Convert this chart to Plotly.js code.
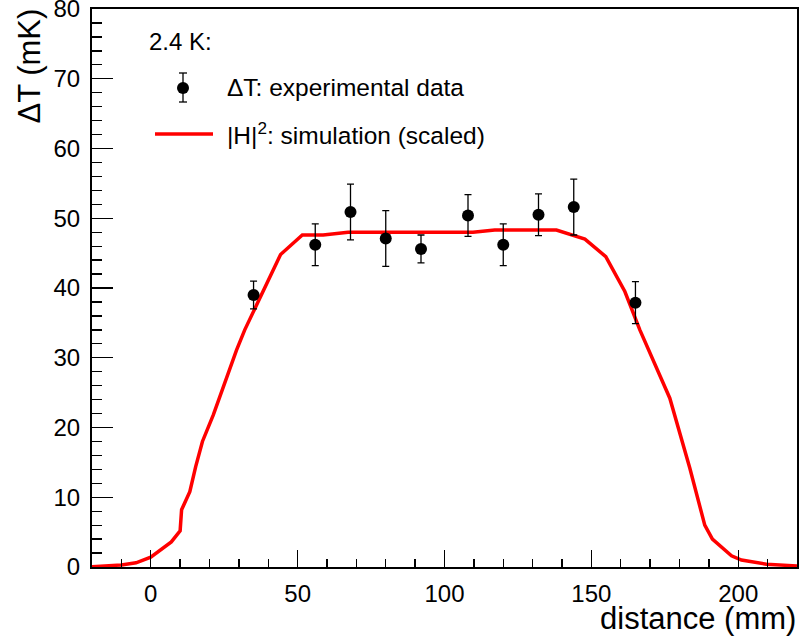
<!DOCTYPE html>
<html>
<head>
<meta charset="utf-8">
<script src="https://cdn.plot.ly/plotly-3.0.1.min.js"></script>
<style>html,body{margin:0;padding:0;background:#fff;}#chart{width:799px;height:640px;}</style>
</head>
<body>
<div id="chart"></div>
<script>
// Experimental data (distance in mm, ΔT in mK)
const expX = [35, 56, 68, 80, 92, 108, 120, 132, 144, 165];
const expY = [39.0, 46.2, 50.9, 47.1, 45.6, 50.4, 46.2, 50.5, 51.6, 37.9];
const expErr = [2.0, 3.0, 4.0, 4.0, 2.0, 3.0, 3.0, 3.0, 4.0, 3.0];

// Simulation |H|^2 (scaled)
const simX = [-20, -10, -5, 0, 7, 10, 10.5, 13.3, 15.3, 17.6, 21.3, 25.3, 29.2, 32, 44.2, 51.6, 58.7, 67.2, 109.7, 117.1, 138.1, 147.8, 154.9, 161.4, 166.5, 176.7, 183.5, 188.6, 191.2, 197.7, 201.1, 209.6, 220];
const simY = [0.05, 0.3, 0.6, 1.4, 3.6, 5.2, 8.2, 10.8, 14.4, 18.0, 21.8, 26.6, 31.1, 34.0, 44.8, 47.6, 47.6, 48.0, 48.0, 48.3, 48.3, 47.0, 44.5, 39.5, 34.0, 24.2, 14.2, 6.0, 4.0, 1.6, 1.0, 0.4, 0.15];

const legendTitle = "2.4 K:";
const legendExp = "ΔT: experimental data";
const legendSim = "|H|<sup>2</sup>: simulation (scaled)";
const xTitle = "distance (mm)";
const yTitle = "ΔT (mK)";

const FONT = "Liberation Sans, Arial, sans-serif";
const W = 799, H = 640, ML = 92, MR = 2, MT = 9, MB = 73;
const PW = W - ML - MR, PH = H - MT - MB;
const px = v => (v - ML) / PW;
const py = v => (H - MB - v) / PH;

const traces = [
  {
    x: simX, y: simY, type: 'scatter', mode: 'lines',
    line: {color: '#ff0000', width: 3.5},
    showlegend: false, hoverinfo: 'skip'
  },
  {
    x: expX, y: expY, type: 'scatter', mode: 'markers',
    marker: {color: '#000', size: 12},
    error_y: {type: 'data', array: expErr, visible: true, color: '#000', thickness: 1.3, width: 3.5},
    showlegend: false
  }
];

const layout = {
  width: W, height: H,
  margin: {l: ML, r: MR, t: MT, b: MB, pad: 0},
  paper_bgcolor: '#fff', plot_bgcolor: '#fff',
  font: {family: FONT, color: '#000'},
  showlegend: false,
  xaxis: {
    range: [-20, 220], tick0: 0, dtick: 50,
    ticks: 'inside', ticklen: 17, tickwidth: 1.3, tickcolor: '#000',
    minor: {dtick: 10, ticks: 'inside', ticklen: 8, tickwidth: 1.3, tickcolor: '#000'},
    showline: true, linecolor: '#000', linewidth: 2, mirror: true,
    showgrid: false, zeroline: false, automargin: false,
    tickfont: {family: FONT, size: 24, color: '#000'},
    ticklabelstandoff: 4, ticklabeloverflow: 'allow'
  },
  yaxis: {
    range: [0, 80], tick0: 0, dtick: 10,
    ticks: 'inside', ticklen: 21, tickwidth: 1.3, tickcolor: '#000',
    minor: {dtick: 2, ticks: 'inside', ticklen: 10, tickwidth: 1.3, tickcolor: '#000'},
    showline: true, linecolor: '#000', linewidth: 2, mirror: true,
    showgrid: false, zeroline: false, automargin: false,
    tickfont: {family: FONT, size: 24, color: '#000'},
    ticklabelstandoff: 5, ticklabeloverflow: 'allow'
  },
  annotations: [
    {xref: 'paper', yref: 'paper', x: 1.002, y: -0.057, xanchor: 'right', yanchor: 'top',
     text: xTitle, showarrow: false, font: {family: FONT, size: 31, color: '#000'}},
    {xref: 'paper', yref: 'paper', x: px(29), y: py(7), xanchor: 'center', yanchor: 'top',
     textangle: -90, text: yTitle, showarrow: false, font: {family: FONT, size: 31, color: '#000'}},
    {xref: 'paper', yref: 'paper', x: px(147), y: py(42), xanchor: 'left', yanchor: 'middle',
     text: legendTitle, showarrow: false, font: {family: FONT, size: 24, color: '#000'}},
    {xref: 'paper', yref: 'paper', x: px(225), y: py(88), xanchor: 'left', yanchor: 'middle',
     text: legendExp, showarrow: false, font: {family: FONT, size: 24.5, color: '#000'}},
    {xref: 'paper', yref: 'paper', x: px(225), y: py(133), xanchor: 'left', yanchor: 'middle',
     text: legendSim, showarrow: false, font: {family: FONT, size: 24.5, color: '#000'}}
  ],
  shapes: [
    // legend error bar symbol
    {type: 'line', xref: 'paper', yref: 'paper', x0: px(183), x1: px(183), y0: py(73), y1: py(102), line: {color: '#000', width: 1.3}},
    {type: 'line', xref: 'paper', yref: 'paper', x0: px(179), x1: px(187), y0: py(73), y1: py(73), line: {color: '#000', width: 1.3}},
    {type: 'line', xref: 'paper', yref: 'paper', x0: px(179), x1: px(187), y0: py(102), y1: py(102), line: {color: '#000', width: 1.3}},
    {type: 'circle', xref: 'paper', yref: 'paper', x0: px(177), x1: px(189), y0: py(82), y1: py(94), fillcolor: '#000', line: {color: '#000', width: 0}},
    // legend line symbol
    {type: 'line', xref: 'paper', yref: 'paper', x0: px(155), x1: px(213), y0: py(134), y1: py(134), line: {color: '#ff0000', width: 3.5}}
  ]
};

Plotly.newPlot('chart', traces, layout, {displayModeBar: false, staticPlot: true});
</script>
</body>
</html>
